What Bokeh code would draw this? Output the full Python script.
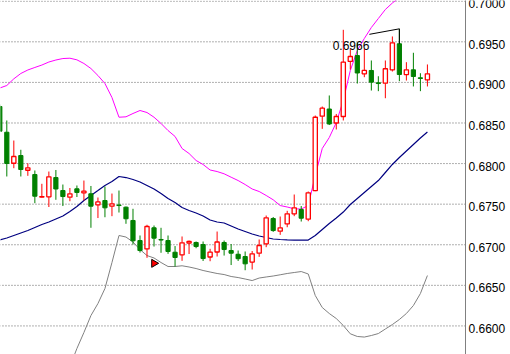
import numpy as np
from bokeh.plotting import figure
from bokeh.models import Range1d
from bokeh.core.properties import value
from bokeh.embed import file_html
from bokeh.resources import INLINE

# ---- data ----
open_ = [0.68703, 0.68386, 0.68004, 0.68099, 0.67918, 0.67865, 0.67588, 0.67591, 0.67828, 0.67668,
         0.67586, 0.67689, 0.67640, 0.67628, 0.67492, 0.67545, 0.67475, 0.67490, 0.67463, 0.67299,
         0.67052, 0.66948, 0.67209, 0.67065, 0.67052, 0.66908, 0.66876, 0.67021, 0.67028, 0.67003,
         0.66849, 0.66911, 0.67028, 0.66929, 0.66883, 0.66855, 0.66787, 0.66896, 0.67012, 0.67323,
         0.67167, 0.67256, 0.67381, 0.67434, 0.67315, 0.67668, 0.68584, 0.68672, 0.68500, 0.68580,
         0.69258, 0.69331, 0.69106, 0.69147, 0.68995, 0.68990, 0.69155, 0.69476, 0.69097, 0.69155,
         0.69057, 0.69032]
high = [0.68728, 0.68531, 0.68284, 0.68170, 0.68004, 0.67915, 0.67751, 0.67902, 0.67921, 0.67742,
        0.67699, 0.67730, 0.67791, 0.67724, 0.67582, 0.67718, 0.67631, 0.67668, 0.67471, 0.67443,
        0.67114, 0.67246, 0.67237, 0.67209, 0.67114, 0.66984, 0.67102, 0.67052, 0.67040, 0.67040,
        0.66950, 0.67163, 0.67052, 0.67009, 0.66929, 0.66917, 0.66923, 0.67065, 0.67360, 0.67342,
        0.67348, 0.67418, 0.67619, 0.67477, 0.67656, 0.68592, 0.68703, 0.68839, 0.68611, 0.69648,
        0.69418, 0.69492, 0.69414, 0.69270, 0.69076, 0.69270, 0.69566, 0.69660, 0.69249, 0.69365,
        0.69113, 0.69221]
low = [0.68389, 0.67841, 0.67943, 0.67841, 0.67849, 0.67512, 0.67582, 0.67465, 0.67554, 0.67477,
       0.67536, 0.67588, 0.67545, 0.67209, 0.67329, 0.67339, 0.67352, 0.67397, 0.67258, 0.67003,
       0.66904, 0.66839, 0.66978, 0.66901, 0.66888, 0.66732, 0.66802, 0.66886, 0.66957, 0.66800,
       0.66797, 0.66855, 0.66867, 0.66750, 0.66800, 0.66686, 0.66695, 0.66851, 0.66970, 0.67159,
       0.67122, 0.67216, 0.67352, 0.67286, 0.67290, 0.67660, 0.68428, 0.68475, 0.68420, 0.68531,
       0.69159, 0.68986, 0.69064, 0.68900, 0.68892, 0.68805, 0.69134, 0.69015, 0.69023, 0.68950,
       0.68892, 0.68950]
close = [0.68399, 0.68001, 0.68087, 0.67927, 0.67948, 0.67598, 0.67594, 0.67837, 0.67687, 0.67594,
         0.67628, 0.67644, 0.67660, 0.67475, 0.67527, 0.67455, 0.67504, 0.67483, 0.67320, 0.67049,
         0.66929, 0.67225, 0.67081, 0.67058, 0.66917, 0.66843, 0.67024, 0.67040, 0.66978, 0.66830,
         0.66908, 0.67034, 0.66941, 0.66896, 0.66828, 0.66765, 0.66888, 0.66991, 0.67332, 0.67175,
         0.67209, 0.67381, 0.67455, 0.67327, 0.67640, 0.68571, 0.68682, 0.68488, 0.68580, 0.69249,
         0.69319, 0.69116, 0.69147, 0.69003, 0.68986, 0.69168, 0.69488, 0.69097, 0.69155, 0.69073,
         0.69048, 0.69106]
upper = [0.68931, 0.68962, 0.69044, 0.69110, 0.69153, 0.69184, 0.69214, 0.69251, 0.69276, 0.69294,
         0.69298, 0.69278, 0.69233, 0.69171, 0.69085, 0.68986, 0.68814, 0.68571, 0.68576, 0.68617,
         0.68654, 0.68629, 0.68571, 0.68494, 0.68407, 0.68334, 0.68186, 0.68124, 0.68038, 0.67989,
         0.67921, 0.67902, 0.67874, 0.67832, 0.67791, 0.67742, 0.67687, 0.67656, 0.67607, 0.67554,
         0.67483, 0.67465, 0.67443, 0.67440, 0.67483, 0.67853, 0.68186, 0.68321, 0.68506, 0.68777,
         0.69147, 0.69393, 0.69541, 0.69676, 0.69787, 0.69898, 0.69978, 0.70046, 0.70108, 0.70157,
         0.70194, 0.70231]
middle = [0.67058, 0.67083, 0.67114, 0.67145, 0.67175, 0.67212, 0.67249, 0.67280, 0.67317, 0.67354,
          0.67410, 0.67471, 0.67545, 0.67607, 0.67668, 0.67730, 0.67779, 0.67841, 0.67828, 0.67804,
          0.67773, 0.67730, 0.67687, 0.67631, 0.67570, 0.67520, 0.67459, 0.67422, 0.67391, 0.67354,
          0.67305, 0.67280, 0.67268, 0.67231, 0.67194, 0.67163, 0.67132, 0.67108, 0.67089, 0.67071,
          0.67065, 0.67061, 0.67058, 0.67058, 0.67058, 0.67114, 0.67188, 0.67262, 0.67329, 0.67403,
          0.67496, 0.67570, 0.67644, 0.67718, 0.67791, 0.67890, 0.67989, 0.68075, 0.68155, 0.68235,
          0.68315, 0.68389]
lower = [None, None, None, None, None, None, None, None, None, None,
         0.65500, 0.65722, 0.65919, 0.66128, 0.66276, 0.66461, 0.66781, 0.67114, 0.67095, 0.67034,
         0.66941, 0.66867, 0.66837, 0.66781, 0.66732, 0.66732, 0.66741, 0.66726, 0.66707, 0.66683,
         0.66664, 0.66646, 0.66633, 0.66609, 0.66596, 0.66578, 0.66559, 0.66590, 0.66603, 0.66615,
         0.66630, 0.66646, 0.66658, 0.66670, 0.66640, 0.66375, 0.66227, 0.66153, 0.66091, 0.66005,
         0.65903, 0.65870, 0.65863, 0.65882, 0.65906, 0.65962, 0.66017, 0.66079, 0.66153, 0.66251,
         0.66399, 0.66621]
tick_values = [0.6600, 0.6650, 0.6700, 0.6750, 0.6800, 0.6850, 0.6900, 0.6950, 0.7000]
tick_labels = ["0.6600", "0.6650", "0.6700", "0.6750", "0.6800", "0.6850", "0.6900", "0.6950", "0.7000"]
peak_label = "0.6966"
peak_index = 57
marker_index = 22
marker_price = 0.66771

# ---- layout ----
W, H = 510, 354
PX_PER_BAR = 7.01
x_start = 0.7 / PX_PER_BAR
x_end = x_start + W / PX_PER_BAR
axis_x = x_start + 465 / PX_PER_BAR
y_start, y_end = 0.65648, 0.70009

n = len(open_)
idx = np.arange(n)
o = np.array(open_); c = np.array(close); hi = np.array(high); lo = np.array(low)
bull = c >= o

p = figure(width=W, height=H, output_backend="svg", toolbar_location=None,
           x_range=Range1d(x_start, x_end), y_range=Range1d(y_start, y_end),
           x_axis_type=None, y_axis_type=None, min_border=0,
           background_fill_color="white", border_fill_color="white")
p.outline_line_color = None
p.xgrid.visible = False
p.ygrid.visible = False

# grid lines (dotted) up to the price axis
p.segment(x0=[x_start - 1] * len(tick_values), x1=[axis_x] * len(tick_values),
          y0=tick_values, y1=tick_values, line_color="#606060", line_width=1,
          line_dash="1 2")

# price axis line
p.segment(x0=[axis_x], x1=[axis_x], y0=[y_start - 0.01], y1=[y_end + 0.01],
          line_color="#808080", line_width=1)

# axis labels
p.text(x=[axis_x] * len(tick_values), y=tick_values, text=tick_labels,
       text_font=value("Liberation Sans"), text_font_size="12px", text_color="black",
       text_align="left", text_baseline="top", x_offset=3, y_offset=-2)

# bands
p.line(idx, upper, line_color="#FF00FF", line_width=1)
p.line(idx, middle, line_color="#000080", line_width=1.2)
lower_arr = np.array([np.nan if v is None else v for v in lower])
p.line(idx, lower_arr, line_color="#808080", line_width=1)

# wicks
p.segment(x0=idx[bull], x1=idx[bull], y0=hi[bull], y1=lo[bull], line_color="#FF0000", line_width=1)
p.segment(x0=idx[~bull], x1=idx[~bull], y0=hi[~bull], y1=lo[~bull], line_color="#008000", line_width=1)

bw = 4.2 / PX_PER_BAR
# bodies
p.vbar(x=idx[~bull], top=o[~bull], bottom=c[~bull], width=bw,
       fill_color="#008000", line_color="#008000", line_width=1)
p.vbar(x=idx[bull], top=c[bull], bottom=o[bull], width=bw,
       fill_color="white", line_color="#FF0000", line_width=1.3)

# trade marker
p.scatter(x=[marker_index], y=[marker_price], marker="triangle", size=8, angle=-1.5708,
          fill_color="#FF0000", line_color="black", line_width=1)

# peak label with pointer line
k = peak_index
dx = 30 / PX_PER_BAR
dy = 5.5 * (y_end - y_start) / H
p.line(x=[k - dx, k, k], y=[high[k] - dy, high[k], open_[k]], line_color="black", line_width=1)
p.text(x=[k], y=[high[k]], text=[peak_label], text_font=value("Liberation Sans"),
       text_font_size="12px", text_color="black", text_align="right",
       text_baseline="alphabetic", x_offset=-30, y_offset=17)

open("out.html", "w").write(file_html(p, INLINE))
